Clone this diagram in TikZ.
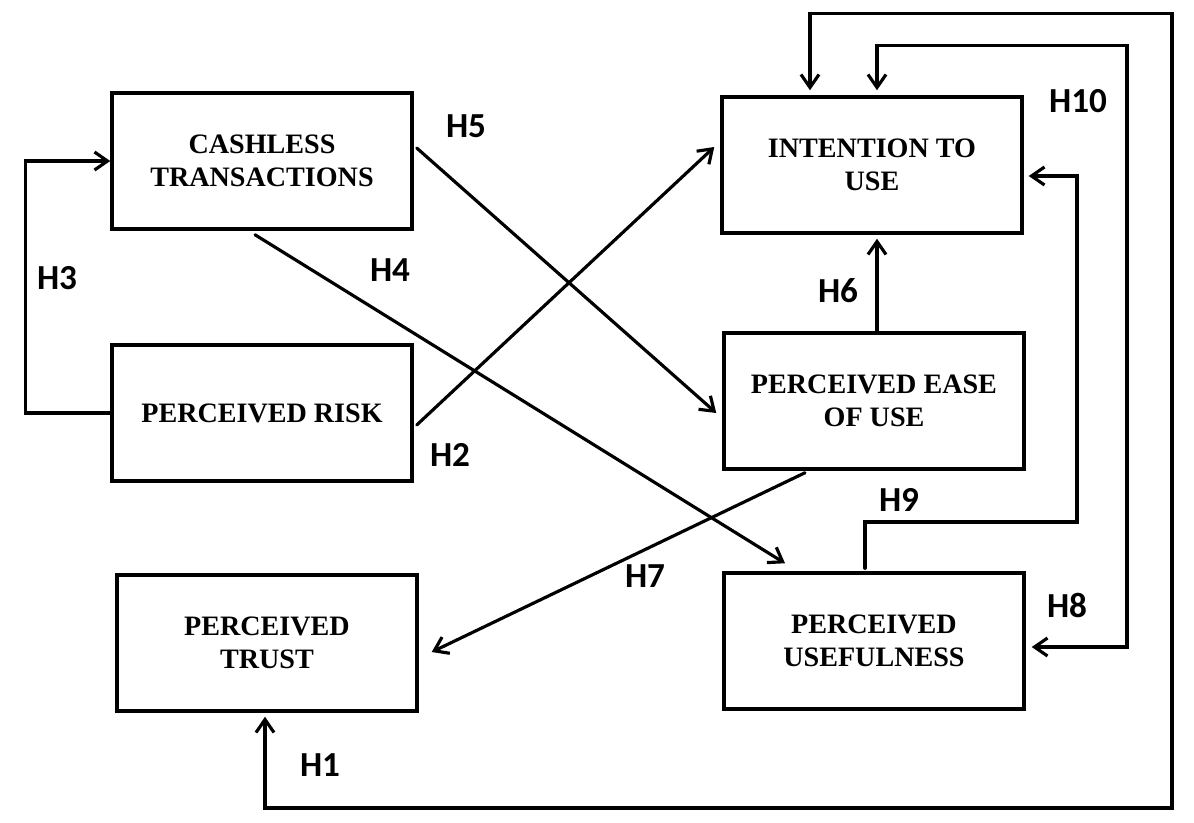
\documentclass[tikz,border=0pt]{standalone}
\usepackage{fontspec}
\setmainfont{Liberation Serif}
\newfontfamily\labelfont{Carlito}
\usetikzlibrary{arrows.meta,calc}

\begin{document}
\begin{tikzpicture}[x=0.02cm,y=-0.02cm,line width=1.8pt,
    >={Straight Barb[length=2.6mm,width=3.6mm]}]

        \useasboundingbox (0,0) rectangle (1194,822);

        \begin{scope}[every node/.style={rectangle,draw,line width=2pt,
            minimum width=6cm,minimum height=2.72cm,align=center,
            font=\bfseries\fontsize{16}{18.5}\selectfont}]
          \node (ct)   at (262,161) {CASHLESS\\TRANSACTIONS};
          \node (pr)   at (262,413) {PERCEIVED RISK};
          \node (pt)   at (267,643) {PERCEIVED\\TRUST};
          \node (itu)  at (872,165) {INTENTION TO\\USE};
          \node (peou) at (874,401) {PERCEIVED EASE\\OF USE};
          \node (pu)   at (874,641) {PERCEIVED\\USEFULNESS};
        \end{scope}

        \begin{scope}[every node/.style={font=\labelfont\bfseries\fontsize{20}{24}\selectfont}]
          \node (h1)  at (320,765)  {H1};
          \node (h2)  at (450,455)  {H2};
          \node (h3)  at (57,278)   {H3};
          \node (h4)  at (390,270)  {H4};
          \node (h5)  at (466,126)  {H5};
          \node (h6)  at (838,291)  {H6};
          \node (h7)  at (645,576)  {H7};
          \node (h8)  at (1067,605) {H8};
          \node (h9)  at (899,500)  {H9};
          \node (h10) at (1078,101) {H10};
        \end{scope}

        \begin{scope}[line cap=round]
          \draw[->] (pr.west) -- ++(-85,0) |- (ct.west);
          \draw[->] ($(ct.east)+(3,-13)$) -- ($(peou.west)+(-6,12)$);
          \draw[->] ($(ct.south)+(-7,4)$) -- ($(pu.north)+(-89,-8)$);
          \draw[->] ($(pr.east)+(3,12)$) -- ($(itu.west)+(-6,-18)$);
          \draw[->] ($(peou.north)+(3,0)$) -- ($(itu.south)+(5,4)$);
          \draw[->] ($(peou.south)+(-69,2)$) -- ($(pt.east)+(13,9)$);
          \draw[->] ($(pu.north)+(-9,-3)$) |- (1077,522) |- ($(itu.east)+(5,11)$);
          \draw[<->] ($(itu.north)+(5,-5)$) -- ++(0,-45) -| (1127,647) -- ($(pu.east)+(6,6)$);
          \draw[<->] ($(itu.north)+(-62,-5)$) -- ++(0,-77) -| (1172,808) -| ($(pt.south)+(-2,4)$);
        \end{scope}

      \end{tikzpicture}
\end{document}
